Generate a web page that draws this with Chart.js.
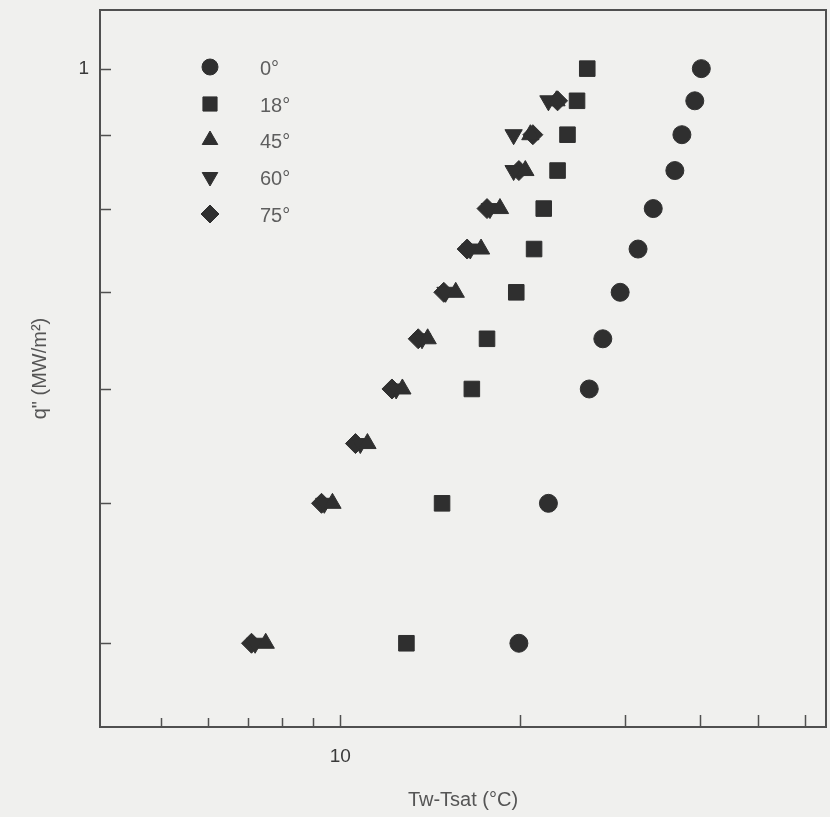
<!DOCTYPE html>
<html>
<head>
<meta charset="utf-8">
<script src="https://cdn.jsdelivr.net/npm/chart.js@4/dist/chart.umd.min.js"></script>
<style>
    html, body { margin: 0; padding: 0; background: #f0f0ee; }
    #wrap { width: 830px; height: 817px; }
</style>
</head>
<body>
<div id="wrap"><canvas id="chart" width="830" height="817"></canvas></div>
<script>
// Heat flux q" (MW/m2) against wall superheat Tw-Tsat (C), one series per inclination
const seriesLabels = ['0°', '18°', '45°', '60°', '75°'];

const q0 = [1.0, 0.95, 0.9, 0.85, 0.8, 0.75, 0.7, 0.65, 0.6, 0.5, 0.4];
const dT0 = [40.2, 39.2, 37.3, 36.3, 33.4, 31.5, 29.4, 27.5, 26.1, 22.3, 19.9];

const q18 = [1.0, 0.95, 0.9, 0.85, 0.8, 0.75, 0.7, 0.65, 0.6, 0.5, 0.4];
const dT18 = [25.9, 24.9, 24.0, 23.1, 21.9, 21.1, 19.7, 17.6, 16.6, 14.8, 12.9];

const qSteep = [0.95, 0.9, 0.85, 0.8, 0.75, 0.7, 0.65, 0.6, 0.55, 0.5, 0.4];
const dT45 = [23.0, 20.8, 20.4, 18.5, 17.2, 15.6, 14.0, 12.7, 11.1, 9.7, 7.5];
const dT60 = [22.3, 19.5, 19.5, 17.8, 16.5, 15.0, 13.7, 12.4, 10.8, 9.4, 7.2];
const dT75 = [23.1, 21.0, 19.9, 17.6, 16.3, 14.9, 13.5, 12.2, 10.6, 9.3, 7.1];

const xTickValues = [5, 6, 7, 8, 9, 10, 20, 30, 40, 50, 60];
const xTickLabels = { 10: '10' };
const yTickValues = [0.4, 0.5, 0.6, 0.7, 0.8, 0.9, 1];
const yTickLabels = { 1: '1' };

const ink = '#2f2f2f';
const frame = '#505050';
const fontFamily = '"Liberation Sans", Arial, sans-serif';

function pairs(xs, ys) {
    return xs.map((x, i) => ({ x: x, y: ys[i] }));
}

function series(label, xs, ys, style, radius, rotation) {
    return {
        label: label,
        data: pairs(xs, ys),
        pointStyle: style,
        pointRadius: radius,
        pointHoverRadius: radius,
        pointRotation: rotation || 0,
        backgroundColor: ink,
        borderColor: ink,
        borderWidth: 1,
        showLine: false
    };
}

const datasets = [
    series(seriesLabels[0], dT0, q0, 'circle', 9),
    series(seriesLabels[1], dT18, q18, 'rect', 11),
    series(seriesLabels[2], dT45, qSteep, 'triangle', 10),
    series(seriesLabels[3], dT60, qSteep, 'triangle', 10, 180),
    series(seriesLabels[4], dT75, qSteep, 'rectRot', 10)
];

// box round the plot, tick marks pointing inwards, legend inside the plot
const framePlugin = {
    id: 'frame',
    afterDraw(chart) {
        const ctx = chart.ctx;
        const a = chart.chartArea;
        const xs = chart.scales.x;
        const ys = chart.scales.y;
        ctx.save();
        ctx.strokeStyle = frame;
        ctx.lineWidth = 2;
        ctx.strokeRect(a.left, a.top, a.right - a.left, a.bottom - a.top);

        ctx.lineWidth = 1.5;
        ctx.beginPath();
        xTickValues.forEach(v => {
            const px = Math.round(xs.getPixelForValue(v)) + 0.5;
            const len = v >= 10 ? 12 : 9;
            ctx.moveTo(px, a.bottom);
            ctx.lineTo(px, a.bottom - len);
        });
        yTickValues.forEach(v => {
            const py = Math.round(ys.getPixelForValue(v)) + 0.5;
            ctx.moveTo(a.left, py);
            ctx.lineTo(a.left + 11, py);
        });
        ctx.stroke();

        // legend
        const lx = a.left + 110;
        const rows = [67, 104, 140, 177, 214];
        ctx.font = '20px ' + fontFamily;
        ctx.textBaseline = 'middle';
        chart.data.datasets.forEach((ds, i) => {
            ctx.fillStyle = ink;
            ctx.strokeStyle = ink;
            ctx.lineWidth = 1;
            Chart.helpers.drawPoint(ctx, {
                pointStyle: ds.pointStyle,
                rotation: ds.pointRotation,
                radius: ds.pointRadius - 1,
                borderWidth: 1
            }, lx, rows[i]);
            ctx.fillStyle = '#5e5e5e';
            ctx.fillText(ds.label, lx + 50, rows[i] + 2);
        });
        ctx.restore();
    }
};

const chart = new Chart(document.getElementById('chart'), {
    type: 'scatter',
    data: { datasets: datasets },
    plugins: [framePlugin],
    options: {
        responsive: false,
        animation: false,
        layout: { autoPadding: false, padding: { top: 10, right: 4, left: 0, bottom: 0 } },
        plugins: {
            legend: { display: false },
            tooltip: { enabled: false }
        },
        scales: {
            x: {
                type: 'logarithmic',
                min: 3.96,
                max: 65,
                afterFit: s => {
                    s.height = 90;
                    s.paddingLeft = 0;
                    s.paddingRight = 0;
                },
                afterBuildTicks: s => { s.ticks = xTickValues.map(v => ({ value: v })); },
                grid: { display: false },
                border: { display: false },
                ticks: {
                    autoSkip: false,
                    maxRotation: 0,
                    padding: 10,
                    color: '#3a3a3a',
                    font: { family: fontFamily, size: 19 },
                    callback: v => xTickLabels[v] || ''
                },
                title: {
                    display: true,
                    text: 'Tw-Tsat (°C)',
                    color: '#555',
                    font: { family: fontFamily, size: 20 },
                    padding: { top: 0, bottom: 5 }
                }
            },
            y: {
                type: 'logarithmic',
                min: 0.352,
                max: 1.098,
                afterFit: s => {
                    s.width = 100;
                    s.paddingTop = 0;
                    s.paddingBottom = 0;
                },
                afterBuildTicks: s => { s.ticks = yTickValues.map(v => ({ value: v })); },
                grid: { display: false },
                border: { display: false },
                ticks: {
                    autoSkip: false,
                    padding: 3,
                    color: '#3a3a3a',
                    font: { family: fontFamily, size: 19 },
                    callback: v => yTickLabels[v] || ''
                },
                title: {
                    display: true,
                    text: 'q" (MW/m²)',
                    color: '#555',
                    font: { family: fontFamily, size: 20 },
                    padding: { top: 28, bottom: 0 }
                }
            }
        }
    }
});
</script>
</body>
</html>
